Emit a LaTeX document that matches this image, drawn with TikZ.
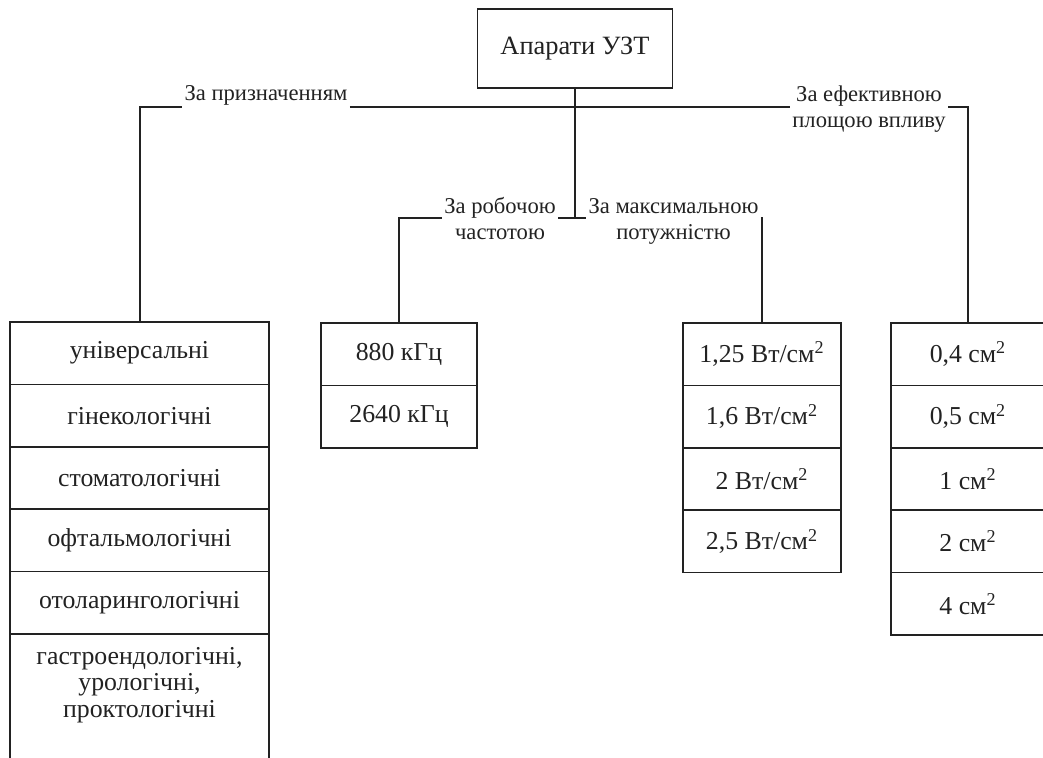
\documentclass[tikz,border=0pt]{standalone}
\usepackage{fontspec}
\setmainfont{Liberation Serif}
\definecolor{ink}{HTML}{222222}
\begin{document}
\begin{tikzpicture}[x=0.5pt,y=-0.5pt]
\tikzset{
  cell/.style={draw=ink, line width=0.8pt, anchor=north, minimum height=31.2pt, inner sep=0pt, outer sep=0pt,
    font=\fontsize{12.9}{13}\selectfont, text=ink},
  lab/.style={align=center, inner sep=1pt, font=\fontsize{11.3}{13}\selectfont, text=ink},
  conn/.style={draw=ink, line width=1pt}
}
\useasboundingbox (0,0) rectangle (1043,758);
\fill[white] (0,0) rectangle (1043,758);

% root
\node[draw=ink, line width=0.8pt, minimum width=97.5pt, minimum height=39.5pt, inner sep=0pt, outer sep=0pt,
  font=\fontsize{13.2}{15}\selectfont, text=ink] (root) at (575,48.5) {Апарати УЗТ};

% labels
\node[lab, anchor=base] (labA) at (266,101) {За призначенням};
\node[lab] (labB) at (500,219) {За робочою\\частотою};
\node[lab] (labC) at (673.5,221) {За максимальною\\потужністю};
\node[lab] (labD) at (869,109) {За ефективною\\площою впливу};

% left column
\node[cell, minimum width=129.5pt] (a1) at (139.5,322) {\raisebox{-1pt}{універсальні}};
\node[cell, minimum width=129.5pt] (a2) at (a1.south) {\raisebox{-1pt}{гінекологічні}};
\node[cell, minimum width=129.5pt] (a3) at (a2.south) {\raisebox{-1pt}{стоматологічні}};
\node[cell, minimum width=129.5pt] (a4) at (a3.south) {\raisebox{-1pt}{офтальмологічні}};
\node[cell, minimum width=129.5pt] (a5) at (a4.south) {\raisebox{-1pt}{отоларингологічні}};
\draw[draw=ink, line width=0.8pt] (a5.south west) -- ++(0,140);
\draw[draw=ink, line width=0.8pt] (a5.south east) -- ++(0,140);
\node[align=center, inner sep=0pt, font=\fontsize{12.9}{13.2}\selectfont, text=ink] (a6) at (139.5,685)
  {гастроендологічні,\\урологічні,\\проктологічні};

% frequency column
\node[cell, minimum width=78pt] (b1) at (399,323) {880 кГц};
\node[cell, minimum width=78pt] (b2) at (b1.south) {2640 кГц};

% power column
\node[cell, minimum width=79pt] (c1) at (762,323) {1,25 Вт/см\textsuperscript{2}};
\node[cell, minimum width=79pt] (c2) at (c1.south) {1,6 Вт/см\textsuperscript{2}};
\node[cell, minimum width=79pt] (c3) at (c2.south) {2 Вт/см\textsuperscript{2}};
\node[cell, minimum width=79pt] (c4) at (c3.south) {2,5 Вт/см\textsuperscript{2}};

% area column
\node[cell, minimum width=77pt] (d1) at (968,323) {0,4 см\textsuperscript{2}};
\node[cell, minimum width=77pt] (d2) at (d1.south) {0,5 см\textsuperscript{2}};
\node[cell, minimum width=77pt] (d3) at (d2.south) {1 см\textsuperscript{2}};
\node[cell, minimum width=77pt] (d4) at (d3.south) {2 см\textsuperscript{2}};
\node[cell, minimum width=77pt] (d5) at (d4.south) {4 см\textsuperscript{2}};

% junctions
\coordinate (hub) at (575,107);
\coordinate (mid) at (575,218);

% connectors
\draw[conn] (root.south) -- (mid);
\draw[conn] (a1.north) -- (a1.north |- hub) -- (labA.west |- hub);
\draw[conn] (labA.east |- hub) -- (labD.west |- hub);
\draw[conn] (labD.east |- hub) -- (d1.north |- hub) -- (d1.north);
\draw[conn] (b1.north) -- (b1.north |- mid) -- (labB.west |- mid);
\draw[conn] (labB.east |- mid) -- (labC.west |- mid);
\draw[conn] (labC.east |- mid) -- (c1.north |- mid) -- (c1.north);
\end{tikzpicture}
\end{document}
